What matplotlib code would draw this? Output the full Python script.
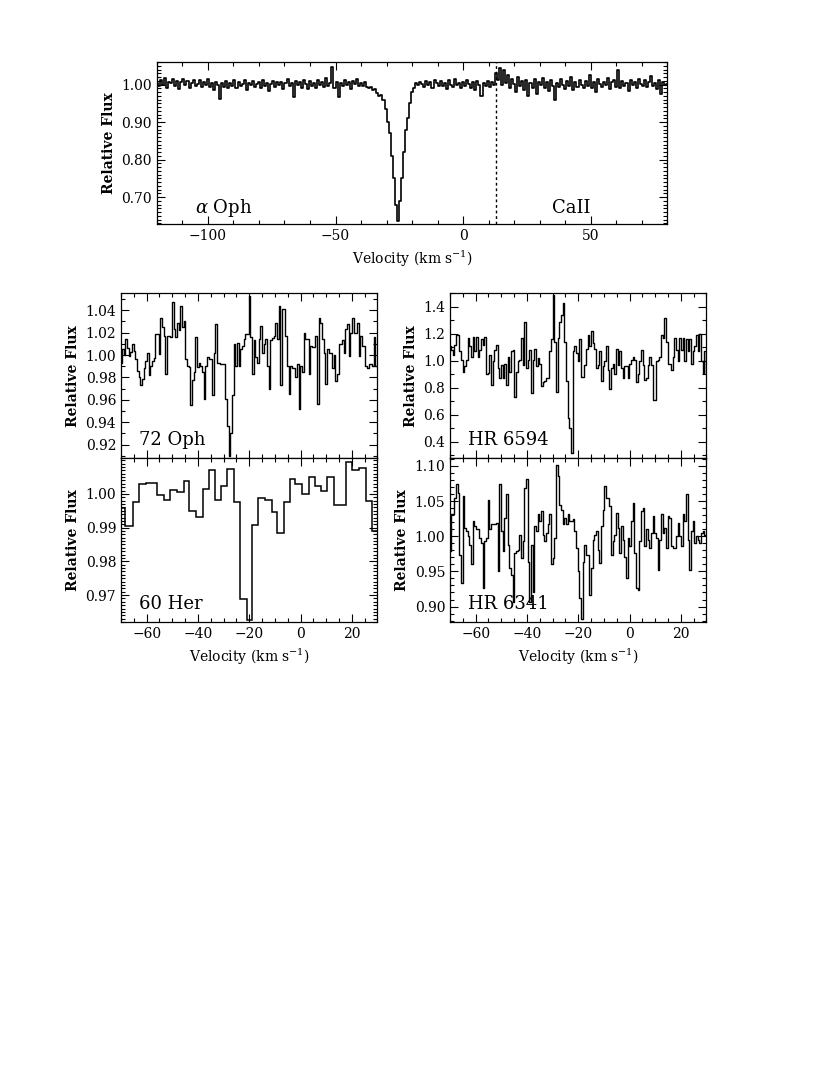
import numpy as np
import matplotlib
matplotlib.use('Agg')
import matplotlib.pyplot as plt
from matplotlib.ticker import MultipleLocator, FixedLocator, FormatStrFormatter

plt.rcParams['font.family'] = ['DejaVu Serif']
plt.rcParams['mathtext.fontset'] = 'dejavuserif'

# ---- data ----
# alpha Oph, Ca II, velocity grid start / step (km/s)
alpha_v0 = -120.0
alpha_dv = 0.8
alpha_flux = [
    1.005, 0.995, 1.012, 1.000, 1.018, 0.992, 1.008, 1.003, 1.015, 0.996,
    1.010, 0.988, 1.006, 1.014, 0.999, 1.009, 0.990, 1.004, 1.011, 0.997,
    1.002, 1.012, 0.993, 1.007, 0.998, 1.016, 0.994, 1.004, 0.986, 1.008,
    0.999, 0.962, 1.005, 0.993, 1.010, 0.990, 1.003, 0.996, 1.013, 0.991,
    1.006, 0.995, 1.002, 1.011, 0.985, 1.004, 0.998, 1.009, 0.993, 1.001,
    1.007, 0.990, 1.013, 0.997, 1.004, 0.982, 1.002, 1.010, 0.994, 1.006,
    0.999, 1.008, 0.988, 1.005, 1.014, 0.996, 1.003, 0.967, 1.009, 0.998,
    1.006, 0.992, 1.012, 1.001, 0.987, 1.010, 0.997, 1.005, 0.990, 1.013,
    0.998, 1.007, 0.993, 1.018, 0.996, 1.004, 1.048, 0.992, 1.008, 0.966,
    1.005, 0.995, 1.011, 0.999, 1.006, 0.989, 1.010, 1.002, 1.015, 0.997,
    1.003, 0.996, 1.008, 0.993, 0.990, 0.994, 0.985, 0.988, 0.978, 0.970,
    0.972, 0.960, 0.935, 0.900, 0.870, 0.810, 0.750, 0.680, 0.636, 0.690,
    0.750, 0.820, 0.880, 0.910, 0.950, 0.980, 0.990, 1.005, 0.998, 1.008,
    1.002, 0.994, 1.010, 0.999, 1.006, 0.991, 1.012, 1.003, 0.996, 1.009,
    0.997, 1.005, 0.988, 1.011, 1.000, 0.993, 1.014, 0.998, 1.004, 0.990,
    1.008, 0.996, 1.013, 1.001, 0.992, 1.006, 0.985, 1.010, 0.998, 0.970,
    1.004, 0.995, 1.009, 0.993, 1.006, 1.000, 1.030, 1.012, 1.045, 0.998,
    1.038, 1.005, 1.025, 0.990, 1.015, 1.002, 0.980, 1.020, 0.995, 1.010,
    0.985, 1.012, 0.970, 1.003, 0.992, 1.015, 0.975, 1.006, 0.998, 1.018,
    0.990, 1.008, 0.982, 1.011, 0.996, 0.958, 1.004, 0.993, 1.016, 1.000,
    0.988, 1.009, 0.997, 1.020, 0.985, 1.006, 0.994, 1.012, 0.999, 0.990,
    1.010, 0.996, 1.025, 0.992, 1.007, 0.980, 1.014, 1.001, 0.993, 1.008,
    0.998, 1.017, 0.989, 1.006, 1.012, 0.994, 1.040, 0.991, 1.009, 0.997,
    1.005, 0.984, 1.012, 0.999, 1.008, 0.990, 1.016, 1.002, 0.995, 1.011,
    0.993, 1.007, 1.022, 0.996, 1.004, 0.988, 1.013, 0.975, 1.008, 0.998, 1.002,
]
caii_rest = 12.7  # dotted line

# small panels share one velocity grid
small_v0 = -70.0
small_dv = 0.65

oph72_flux = [
    0.993, 1.005, 1.000, 1.014, 1.006, 0.999, 1.003, 1.010, 1.004, 0.996,
    0.986, 0.980, 0.973, 0.979, 0.988, 0.995, 1.002, 0.982, 0.990, 0.995,
    0.997, 1.019, 1.019, 1.001, 1.033, 1.025, 1.017, 0.983, 1.017, 1.017,
    1.016, 1.047, 1.023, 1.016, 1.029, 1.022, 1.044, 1.025, 1.030, 0.996,
    0.990, 0.989, 0.955, 0.978, 0.985, 1.016, 0.989, 0.993, 0.990, 0.985,
    0.961, 0.990, 0.998, 0.996, 0.996, 0.964, 1.002, 1.028, 0.993, 0.993,
    0.992, 0.992, 0.992, 0.961, 0.937, 0.910, 0.930, 0.964, 1.010, 0.990,
    1.011, 0.990, 1.005, 1.008, 1.014, 1.019, 1.019,
    1.053, 1.016, 0.983, 1.013, 0.998, 0.993, 1.014, 1.026, 1.002, 1.010,
    1.014, 0.990, 0.970, 1.013, 1.015, 1.017, 1.029, 1.014, 1.044, 0.973,
    1.041, 1.041, 1.017, 0.990, 0.965, 0.990, 0.988, 0.988, 0.980, 0.992,
    0.952, 0.990, 0.985, 1.020, 1.014, 1.014, 0.983, 1.008, 1.007, 1.007,
    1.017, 0.956, 1.033, 1.029, 1.014, 1.002, 0.974, 1.005, 1.002, 1.002,
    0.988, 1.000, 0.977, 0.983, 1.010, 1.010, 1.013, 1.002, 1.023, 1.028,
    0.999, 1.020, 1.033, 1.020, 1.020, 1.029, 0.999, 1.017, 1.008, 1.008,
    0.990, 0.988, 0.992, 0.992, 0.990, 1.016, 0.990, 0.990,
]

hr6594_flux = [
    1.11, 1.08, 1.04, 1.12, 1.19, 1.19, 1.07, 1.01, 0.92, 0.96,
    1.01, 1.17, 1.11, 1.03, 1.18, 1.07, 1.18, 1.03, 1.08, 1.16,
    1.12, 1.18, 0.90, 0.91, 1.04, 0.82, 1.00, 1.08, 1.12, 0.95,
    0.87, 0.97, 0.87, 0.98, 0.82, 1.03, 0.92, 1.07, 1.08, 0.73,
    0.92, 1.00, 1.01, 1.17, 0.97, 1.29, 0.95, 1.01, 1.08, 0.76,
    1.01, 1.09, 0.96, 1.02, 0.98, 0.81, 0.84, 0.85, 0.87, 0.87,
    1.07, 1.16, 1.49, 1.14, 0.77, 1.17, 1.29, 1.34, 1.43, 1.14,
    0.85, 0.58, 0.50, 0.32, 1.07, 1.11, 1.06,
    1.00, 1.16, 0.88, 0.88, 0.97, 1.09, 1.19, 1.11, 1.22, 1.13,
    1.09, 0.95, 0.97, 1.07, 0.85, 0.96, 1.00, 1.11, 0.93, 0.79,
    0.95, 0.98, 0.90, 1.09, 0.97, 1.07, 0.95, 0.87, 0.96, 0.96,
    0.87, 0.98, 1.01, 1.03, 1.01, 0.84, 0.90, 1.00, 1.08, 0.97,
    0.86, 0.87, 0.97, 1.03, 0.97, 0.71, 0.71, 1.00, 1.01, 1.03,
    1.19, 1.17, 1.32, 1.14, 0.98, 0.98, 0.93, 1.03, 1.17, 1.08,
    1.00, 1.17, 1.08, 1.17, 1.00, 1.16, 1.07, 1.16, 0.98, 1.07,
    1.11, 1.19, 1.07, 1.20, 1.00, 0.91, 1.07, 0.90,
]

hr6341_flux = [
    0.979, 1.031, 1.031, 1.055, 1.074, 1.062, 0.974, 0.933, 1.057, 1.012,
    1.007, 1.000, 0.988, 0.960, 1.021, 1.014, 1.010, 1.010, 0.998, 0.990,
    0.926, 0.993, 0.998, 1.052, 1.010, 1.017, 1.017, 1.017, 1.019, 0.950,
    1.074, 1.007, 0.979, 1.026, 1.060, 0.988, 0.955, 0.945, 0.907, 0.976,
    0.979, 0.981, 1.002, 0.969, 0.993, 1.069, 1.081, 0.964, 0.907, 0.988,
    0.921, 1.014, 1.007, 1.031, 1.021, 1.036, 1.002, 0.993, 1.005, 1.017,
    1.031, 0.960, 0.969, 0.998, 1.102, 1.086, 1.045, 1.038, 1.017, 1.026,
    1.017, 1.031, 1.021, 1.021, 1.024, 1.007, 0.983,
    0.950, 0.912, 0.883, 0.964, 0.988, 0.974, 0.974, 0.917, 0.955, 0.995,
    1.002, 1.007, 0.981, 0.962, 1.014, 1.038, 1.071, 1.055, 1.055, 1.043,
    0.974, 0.993, 1.002, 1.033, 1.012, 0.976, 1.014, 0.995, 0.971, 0.940,
    0.998, 0.986, 1.021, 1.048, 0.976, 0.926, 0.924, 0.993, 1.036, 1.040,
    0.986, 1.010, 0.995, 0.983, 1.005, 1.029, 1.005, 0.998, 0.952, 0.995,
    1.031, 1.005, 1.012, 0.983, 1.029, 1.026, 0.986, 0.983, 0.983, 1.000,
    1.019, 1.000, 0.986, 1.031, 1.021, 1.060, 0.995, 0.952, 1.007, 1.021,
    0.990, 1.000, 0.995, 0.990, 1.005, 1.007, 1.002, 1.002,
]

# 60 Her has coarse bins: edges and values
her60_edges = [-71.0, -68.3, -65.4, -62.8, -60.2, -55.9, -53.3, -50.8, -48.2,
               -45.6, -43.5, -40.9, -38.2, -35.8, -33.3, -31.2, -28.8, -25.9,
               -23.6, -21.0, -19.0, -16.4, -13.8, -11.2, -9.0, -6.6, -4.0,
               -2.0, 0.6, 3.2, 5.8, 8.0, 10.4, 13.0, 17.6, 20.2, 22.8, 25.4,
               28.0, 31.0]
her60_flux = [0.9958, 0.9906, 0.9975, 1.0030, 1.0033, 0.9998, 0.9983, 1.0011,
              1.0005, 1.0038, 0.9950, 0.9933, 1.0015, 1.0070, 0.9983, 1.0025,
              1.0075, 0.9975, 0.9688, 0.9627, 0.9907, 0.9987, 0.9983, 0.9946,
              0.9884, 0.9975, 1.0045, 1.0028, 1.0001, 1.0050, 1.0025, 1.0010,
              1.0050, 0.9966, 1.0095, 1.0072, 1.0077, 0.9978, 0.9889]
her60_yticks = [0.97, 0.98, 0.99, 1.00]

vel_label = r'Velocity (km s$^{-1}$)'


def style(ax, xmaj, xmin, ymaj, ymin, yfmt):
    ax.xaxis.set_major_locator(MultipleLocator(xmaj))
    ax.xaxis.set_minor_locator(MultipleLocator(xmin))
    if isinstance(ymaj, list):
        ax.yaxis.set_major_locator(FixedLocator(ymaj))
    else:
        ax.yaxis.set_major_locator(MultipleLocator(ymaj))
    ax.yaxis.set_minor_locator(MultipleLocator(ymin))
    ax.yaxis.set_major_formatter(FormatStrFormatter(yfmt))
    ax.tick_params(which='both', direction='in', top=True, right=True,
                   labelsize=10, width=0.8)
    ax.tick_params(which='major', length=6)
    ax.tick_params(which='minor', length=3)
    for s in ax.spines.values():
        s.set_linewidth(0.9)


def small_grid(flux):
    return small_v0 + small_dv * np.arange(len(flux))


fig = plt.figure(figsize=(8.3, 10.73), dpi=100)

# top panel
ax = fig.add_axes([0.189, 0.7912, 0.615, 0.151])
v = alpha_v0 + alpha_dv * np.arange(len(alpha_flux))
ax.plot(v, alpha_flux, drawstyle='steps-mid', color='k', lw=1.2)
ax.axvline(caii_rest, color='k', ls=(0, (2, 2)), lw=1.0)
ax.set_xlim(-120, 80)
ax.set_ylim(0.628, 1.06)
style(ax, 50, 10, 0.1, 0.01, '%.2f')
ax.set_xlabel(vel_label, fontsize=10)
ax.set_ylabel('Relative Flux', fontsize=10, fontweight='bold')
ax.text(0.075, 0.1, r'$\alpha$ Oph', transform=ax.transAxes, fontsize=13,
        va='center')
ax.text(0.775, 0.1, 'CaII', transform=ax.transAxes, fontsize=13, va='center')

# lower panels
lx, rx, w = 0.1458, 0.5422, 0.309
yb, yt, h = 0.4203, 0.5732, 0.1533

panels = [
    ([lx, yt, w, h], oph72_flux, (0.908, 1.055), 0.02, 0.01, '%.2f', '72 Oph', False),
    ([rx, yt, w, h], hr6594_flux, (0.28, 1.50), 0.2, 0.1, '%.1f', 'HR 6594', False),
    ([lx, yb, w, h], None, (0.962, 1.0108), her60_yticks, 0.001, '%.2f', '60 Her', True),
    ([rx, yb, w, h], hr6341_flux, (0.878, 1.112), 0.05, 0.01, '%.2f', 'HR 6341', True),
]

for rect, flux, ylim, ymaj, ymin, yfmt, name, bottom in panels:
    ax = fig.add_axes(rect)
    if flux is None:
        ax.stairs(her60_flux, her60_edges, color='k', lw=1.1)
    else:
        ax.plot(small_grid(flux), flux, drawstyle='steps-mid', color='k', lw=1.0)
    ax.set_xlim(-70, 30)
    ax.set_ylim(*ylim)
    style(ax, 20, 5, ymaj, ymin, yfmt)
    ax.set_ylabel('Relative Flux', fontsize=10, fontweight='bold')
    if bottom:
        ax.set_xlabel(vel_label, fontsize=10)
    else:
        ax.tick_params(labelbottom=False)
    ax.text(0.07, 0.11, name, transform=ax.transAxes, fontsize=13, va='center')

fig.savefig('out.png', dpi=100)
